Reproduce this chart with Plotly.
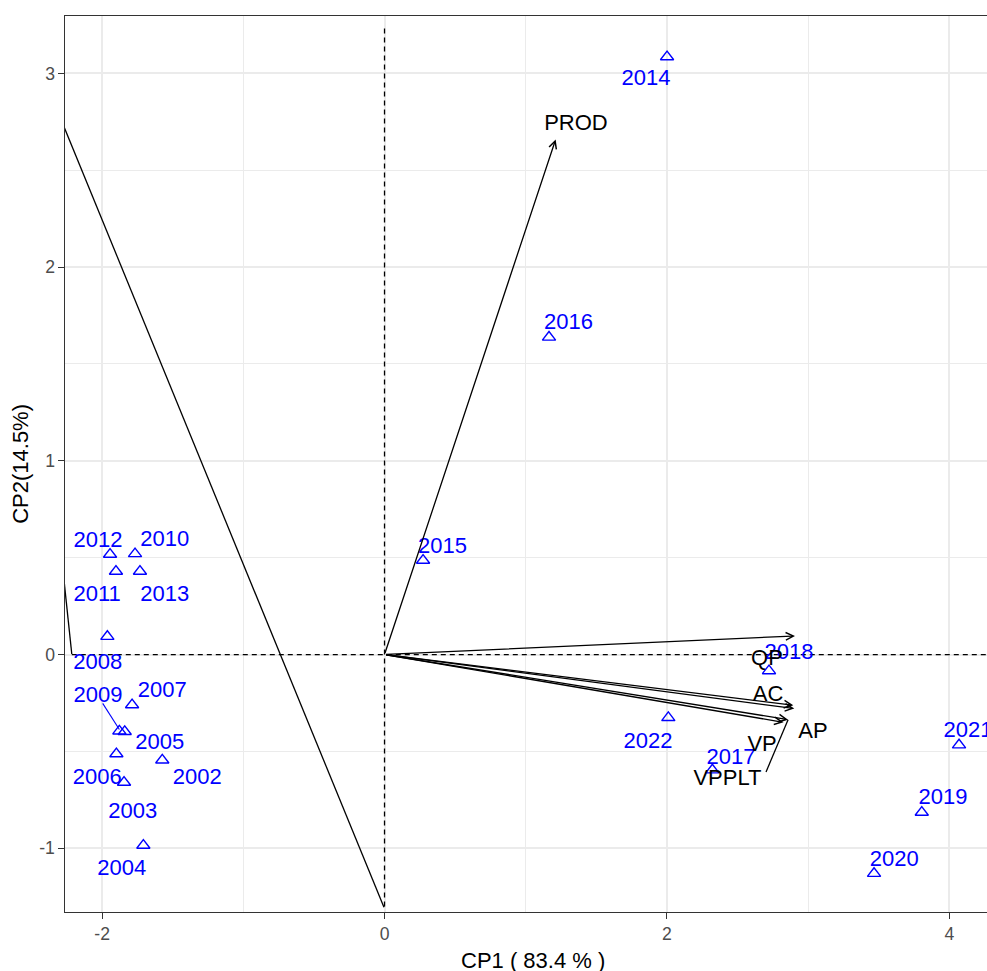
import plotly.graph_objects as go

# ---- PCA scores (individuals = years) ----
years = ["2002", "2003", "2004", "2005", "2006", "2007", "2008", "2009", "2010",
         "2011", "2012", "2013", "2014", "2015", "2016", "2017", "2018", "2019",
         "2020", "2021", "2022"]
cp1 = [-1.574, -1.845, -1.708, -1.840, -1.899, -1.788, -1.963, -1.878, -1.767,
       -1.902, -1.944, -1.732, 2.001, 0.273, 1.165, 2.322, 2.723, 3.805,
       3.467, 4.069, 2.010]
cp2 = [-0.545, -0.660, -0.985, -0.398, -0.513, -0.260, 0.093, -0.395, 0.520,
       0.429, 0.517, 0.429, 3.085, 0.486, 1.638, -0.596, -0.084, -0.815,
       -1.130, -0.467, -0.326]

# repelled label placement for the year labels
year_label_x = [-1.326, -1.783, -1.861, -1.592, -2.035, -1.574, -2.031, -2.029, -1.557,
                -2.035, -2.029, -1.557, 1.852, 0.411, 1.303, 2.454, 2.865, 3.955,
                3.610, 4.132, 1.866]
year_label_y = [-0.638, -0.814, -1.112, -0.457, -0.642, -0.190, -0.044, -0.216, 0.591,
                0.306, 0.582, 0.306, 2.969, 0.551, 1.708, -0.538, 0.004, -0.741,
                -1.063, -0.395, -0.452]

# ---- variable loadings (arrows) ----
variables = ["PROD", "QP", "AC", "AP", "VP", "VPPLT"]
load_cp1 = [1.212, 2.907, 2.895, 2.902, 2.826, 2.858]
load_cp2 = [2.659, 0.096, -0.262, -0.279, -0.350, -0.336]
var_label_x = [1.356, 2.709, 2.716, 3.035, 2.674, 2.429]
var_label_y = [2.737, -0.028, -0.209, -0.400, -0.467, -0.643]

# label connector segments (x0, y0, x1, y1)
connectors = [
    (-1.996, -0.252, -1.878, -0.387),   # 2009 label -> point
    (2.702, -0.606, 2.858, -0.336),     # VPPLT label -> arrow tip
]
guide_segments = [
    (-0.004, -1.305, -2.350, 2.866),
    (-2.215, 0.003, -2.300, 0.590),
]

x_range = [-2.263, 4.267]
y_range = [-1.329, 3.296]

FONT = "Liberation Sans, Arial, Helvetica, sans-serif"
BLUE = "#0000FF"
GRID = "#EBEBEB"

fig = go.Figure()

# reference dashed axes through the origin
fig.add_trace(go.Scatter(x=[0, 0], y=[-1.300, 3.237], mode="lines",
                         line=dict(color="black", width=1.3, dash="5px,4px"),
                         hoverinfo="skip", showlegend=False))
fig.add_trace(go.Scatter(x=[-2.215, 4.4], y=[0, 0], mode="lines",
                         line=dict(color="black", width=1.3, dash="5px,4px"),
                         hoverinfo="skip", showlegend=False))

# plain black guide segments
for x0, y0, x1, y1 in guide_segments:
    fig.add_trace(go.Scatter(x=[x0, x1], y=[y0, y1], mode="lines",
                             line=dict(color="black", width=1.3),
                             hoverinfo="skip", showlegend=False))

# label connector segments
fig.add_trace(go.Scatter(x=[connectors[0][0], connectors[0][2]],
                         y=[connectors[0][1], connectors[0][3]], mode="lines",
                         line=dict(color=BLUE, width=1.1),
                         hoverinfo="skip", showlegend=False))
fig.add_trace(go.Scatter(x=[connectors[1][0], connectors[1][2]],
                         y=[connectors[1][1], connectors[1][3]], mode="lines",
                         line=dict(color="black", width=1.3),
                         hoverinfo="skip", showlegend=False))

# year scores
fig.add_trace(go.Scatter(x=cp1, y=cp2, mode="markers",
                         marker=dict(symbol="triangle-up-open", size=11.5,
                                     color=BLUE, line=dict(width=1.4, color=BLUE)),
                         hoverinfo="skip", showlegend=False))
fig.add_trace(go.Scatter(x=year_label_x, y=year_label_y, mode="text", text=years,
                         textposition="middle center",
                         textfont=dict(family=FONT, size=22, color=BLUE),
                         cliponaxis=False, hoverinfo="skip", showlegend=False))

# variable labels
fig.add_trace(go.Scatter(x=var_label_x, y=var_label_y, mode="text", text=variables,
                         textposition="middle center",
                         textfont=dict(family=FONT, size=22, color="black"),
                         cliponaxis=False, hoverinfo="skip", showlegend=False))

# loading arrows from the origin
for vx, vy in zip(load_cp1, load_cp2):
    fig.add_annotation(x=vx, y=vy, ax=0, ay=0, xref="x", yref="y",
                       axref="x", ayref="y", text="", showarrow=True,
                       arrowhead=5, arrowsize=1.15, arrowwidth=1.3,
                       arrowcolor="black", standoff=0, startstandoff=0)

# axis titles
fig.add_annotation(text="CP1 ( 83.4 % )", xref="paper", yref="paper",
                   x=0.508, y=-0.0536, xanchor="center", yanchor="middle",
                   showarrow=False, font=dict(family=FONT, size=22, color="black"))
fig.add_annotation(text="CP2(14.5%)", xref="paper", yref="paper",
                   x=-0.049, y=0.5, xanchor="center", yanchor="middle",
                   textangle=-90, showarrow=False,
                   font=dict(family=FONT, size=22, color="black"))

axis_common = dict(
    showgrid=True, gridcolor=GRID, gridwidth=1.5,
    zeroline=False, showline=True, linecolor="#333333", linewidth=1.1,
    ticks="outside", ticklen=5.5, tickwidth=1.1, tickcolor="#333333",
    tickfont=dict(family=FONT, size=17.6, color="#4D4D4D"),
)

fig.update_xaxes(range=x_range, tickvals=[-2, 0, 2, 4], ticktext=["-2", "0", "2", "4"],
                 minor=dict(tickvals=[-1, 1, 3], showgrid=True, gridcolor=GRID,
                            gridwidth=1.2, ticks=""),
                 mirror=True, **axis_common)
fig.update_yaxes(range=y_range, tickvals=[-1, 0, 1, 2, 3],
                 ticktext=["-1", "0", "1", "2", "3"],
                 minor=dict(tickvals=[-0.5, 0.5, 1.5, 2.5], showgrid=True,
                            gridcolor=GRID, gridwidth=1.2, ticks=""),
                 mirror=False, **axis_common)

fig.update_layout(
    width=987, height=971,
    margin=dict(l=65, r=0, t=16, b=59, autoexpand=False),
    plot_bgcolor="white", paper_bgcolor="white",
    font=dict(family=FONT),
    showlegend=False,
)

fig.write_html("out.html")
